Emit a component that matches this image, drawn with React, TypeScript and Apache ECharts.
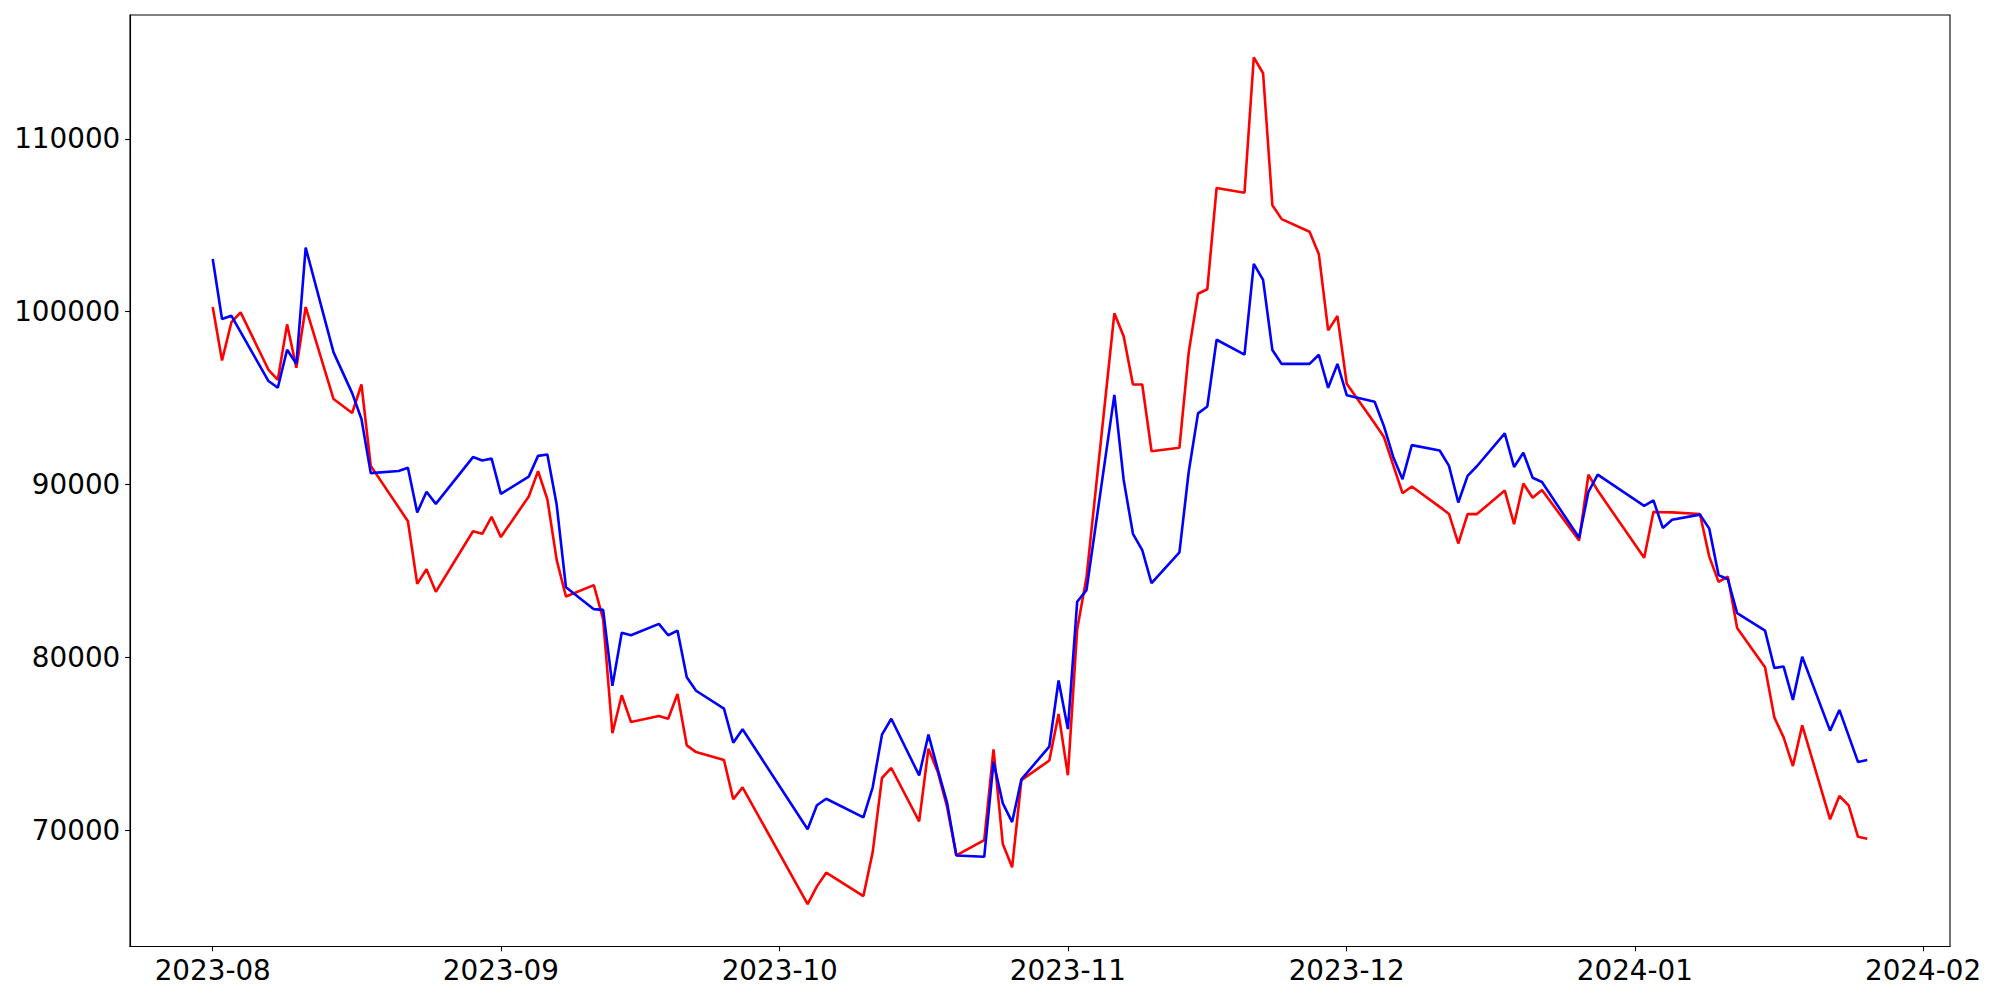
import React, { useEffect, useRef } from 'react';
import * as echarts from 'echarts';

const dates = [
  '2023-08-01', '2023-08-02', '2023-08-03', '2023-08-04', '2023-08-07', '2023-08-08', '2023-08-09', '2023-08-10', '2023-08-11',
  '2023-08-14', '2023-08-16', '2023-08-17', '2023-08-18', '2023-08-21', '2023-08-22', '2023-08-23', '2023-08-24', '2023-08-25',
  '2023-08-29', '2023-08-30', '2023-08-31', '2023-09-01', '2023-09-04', '2023-09-05', '2023-09-06', '2023-09-07', '2023-09-08',
  '2023-09-11', '2023-09-12', '2023-09-13', '2023-09-14', '2023-09-15', '2023-09-18', '2023-09-19', '2023-09-20', '2023-09-21',
  '2023-09-22', '2023-09-25', '2023-09-26', '2023-09-27', '2023-10-04', '2023-10-05', '2023-10-06', '2023-10-10', '2023-10-11',
  '2023-10-12', '2023-10-13', '2023-10-16', '2023-10-17', '2023-10-18', '2023-10-19', '2023-10-20', '2023-10-23', '2023-10-24',
  '2023-10-25', '2023-10-26', '2023-10-27', '2023-10-30', '2023-10-31', '2023-11-01', '2023-11-02', '2023-11-03', '2023-11-06',
  '2023-11-07', '2023-11-08', '2023-11-09', '2023-11-10', '2023-11-13', '2023-11-14', '2023-11-15', '2023-11-16', '2023-11-17',
  '2023-11-20', '2023-11-21', '2023-11-22', '2023-11-23', '2023-11-24', '2023-11-27', '2023-11-28', '2023-11-29', '2023-11-30',
  '2023-12-01', '2023-12-04', '2023-12-05', '2023-12-06', '2023-12-07', '2023-12-08', '2023-12-11', '2023-12-12', '2023-12-13',
  '2023-12-14', '2023-12-15', '2023-12-18', '2023-12-19', '2023-12-20', '2023-12-21', '2023-12-22', '2023-12-26', '2023-12-27',
  '2023-12-28', '2024-01-02', '2024-01-03', '2024-01-04', '2024-01-05', '2024-01-08', '2024-01-09', '2024-01-10', '2024-01-11',
  '2024-01-12', '2024-01-15', '2024-01-16', '2024-01-17', '2024-01-18', '2024-01-19', '2024-01-22', '2024-01-23', '2024-01-24',
  '2024-01-25', '2024-01-26',
];

const redValues: (number | null)[] = [
  100270, 97180, 99380, 99960, 96640, 96060, 99270, 96760, 100270,
  94950, 94140, 95790, 91080, null, 87880, 84250, 85100, 83790,
  87300, 87150, 88130, 86960, 89310, 90780, 89150, 85640, 83520,
  84180, 82210, 75610, 77810, 76260, 76610, 76450, 77880, 74910,
  74520, 74060, 71790, 72480, 65720, 66750, 67540, 66190, 68730,
  73020, 73600, 70510, 74720, 73370, 71360, 68540, 69430, 74680,
  69200, 67850, 72900, 74030, 76730, 73180, 81630, 84620, 99910,
  98580, 95790, 95790, 91930, 92130, 97650, 101040, 101300, 107160,
  106890, 114720, 113800, 106160, 105360, 104630, 103320, 98920, 99750,
  95830, 93550, 92750, 91120, 89500, 89890, 88710, 88300, 86590,
  88290, 88290, 89650, 87710, 90060, 89240, 89690, 86760, 90570,
  89650, 85760, 88420, 88400, 88390, 88300, 85830, 84370, 84670,
  81700, 79430, 76530, 75370, 73710, 76070, 70630, 71980, 71440,
  69620, 69510,
];

const blueValues: (number | null)[] = [
  103050, 99580, 99770, null, 95990, 95600, 97800, 96990, 103710,
  97650, 95290, 93790, 90660, 90780, 90970, 88380, 89580, 88880,
  91590, 91390, 91510, 89460, 90460, 91660, 91740, 88840, 84060,
  82790, 82750, 78350, 81430, 81280, 81940, 81280, 81550, 78850,
  78070, 77030, 75060, 75840, 70050, 71440, 71820, 70740, 72480,
  75530, 76450, 73170, 75530, 73520, 71590, 68540, 68460, 73950,
  71550, 70470, 72940, 74840, 78660, 75850, 83220, 83890, 95190,
  90270, 87150, 86210, 84290, 86080, 90740, 94120, 94520, 98380,
  97520, 102770, 101840, 97780, 96980, 96980, 97510, 95600, 96980,
  95170, 94790, 93380, 91600, 90310, 92280, 91970, 91080, 88960,
  90500, 91060, 92960, 91020, 91840, 90390, 90150, 86920, 89580,
  90570, 88770, 89080, 87490, 87960, 88260, 87450, 84760, 84520,
  82560, 81550, 79390, 79470, 77540, 80040, 75760, 76960, null,
  73950, 74060,
];

const yTickValues = [70000, 80000, 90000, 100000, 110000];
const xTickMonths = ['2023-08', '2023-09', '2023-10', '2023-11', '2023-12', '2024-01', '2024-02'];

function parseDate(s: string): number {
  const parts = s.split('-').map(Number);
  return Date.UTC(parts[0], parts[1] - 1, parts[2] || 1);
}

function pad2(n: number): string {
  return n < 10 ? '0' + n : String(n);
}

export default function App() {
  const ref = useRef<HTMLDivElement>(null);

  useEffect(() => {
    if (!ref.current) return;
    const chart = echarts.init(ref.current, null, { renderer: 'svg' });

    const times = dates.map(parseDate);
    const tMin = times[0];
    const tMax = times[times.length - 1];
    const xPad = (tMax - tMin) * 0.05;
    const allVals = [...redValues, ...blueValues].filter((v) => v != null) as number[];
    const vMin = Math.min(...allVals);
    const vMax = Math.max(...allVals);
    const yPad = (vMax - vMin) * 0.05;
    const xTicks = xTickMonths.map(parseDate);

    const font = 'DejaVu Sans';
    const tickLen = 4.86;
    const lineW = 1.1;
    const seriesW = 2.6;

    chart.setOption({
      animation: false,
      backgroundColor: '#ffffff',
      grid: {
        left: 130,
        right: 50,
        top: 15,
        bottom: 53.5,
        show: true,
        borderColor: '#000000',
        borderWidth: lineW,
        backgroundColor: 'transparent',
        containLabel: false,
      },
      xAxis: {
        type: 'value',
        min: tMin - xPad,
        max: tMax + xPad,
        scale: true,
        splitLine: { show: false },
        axisLine: { show: true, onZero: false, lineStyle: { color: '#000000', width: lineW } },
        axisTick: {
          show: true,
          customValues: xTicks,
          length: tickLen,
          lineStyle: { color: '#000000', width: lineW },
        },
        axisLabel: {
          customValues: xTicks,
          formatter: (v: number) => {
            const d = new Date(v);
            return d.getUTCFullYear() + '-' + pad2(d.getUTCMonth() + 1);
          },
          fontSize: 27.8,
          fontFamily: font,
          color: '#000000',
          margin: 9.7,
        },
      },
      yAxis: {
        type: 'value',
        min: vMin - yPad,
        max: vMax + yPad,
        scale: true,
        splitLine: { show: false },
        axisLine: { show: true, onZero: false, lineStyle: { color: '#000000', width: lineW } },
        axisTick: {
          show: true,
          customValues: yTickValues,
          length: tickLen,
          lineStyle: { color: '#000000', width: lineW },
        },
        axisLabel: {
          customValues: yTickValues,
          formatter: (v: number) => String(Math.round(v)),
          fontSize: 27.8,
          fontFamily: font,
          color: '#000000',
          margin: 9.7,
        },
      },
      series: [
        {
          name: 'red',
          type: 'line',
          data: times.map((t, i) => [t, redValues[i]]),
          connectNulls: true,
          showSymbol: false,
          symbol: 'none',
          lineStyle: { color: '#ff0000', width: seriesW },
          itemStyle: { color: '#ff0000' },
        },
        {
          name: 'blue',
          type: 'line',
          data: times.map((t, i) => [t, blueValues[i]]),
          connectNulls: true,
          showSymbol: false,
          symbol: 'none',
          lineStyle: { color: '#0000ff', width: seriesW },
          itemStyle: { color: '#0000ff' },
        },
      ],
    });

    return () => {
      chart.dispose();
    };
  }, []);

  return (
    <div
      ref={ref}
      style={{ position: 'absolute', left: 0, top: 0, width: 2000, height: 1000, background: '#ffffff' }}
    />
  );
}
